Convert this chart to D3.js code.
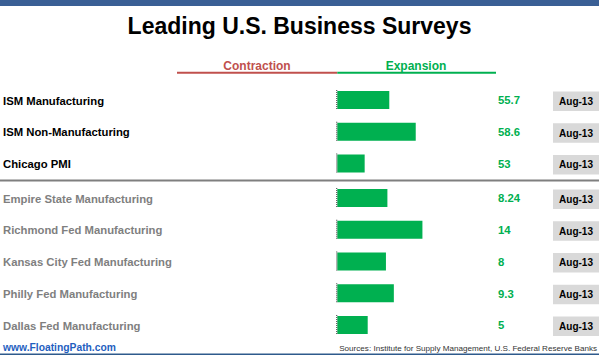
<!DOCTYPE html>
<html>
<head>
<meta charset="utf-8">
<script src="https://cdn.jsdelivr.net/npm/d3@7"></script>
<style>
  html, body { margin: 0; padding: 0; background: #fff; }
  svg { display: block; font-family: "Liberation Sans", Arial, sans-serif; }
</style>
</head>
<body>
<svg id="chart" width="599" height="355"></svg>
<script>
const title = "Leading U.S. Business Surveys";
const legendLabels = ["Contraction", "Expansion"];

const ismNames = ["ISM Manufacturing", "ISM Non-Manufacturing", "Chicago PMI"];
const ismValues = [55.7, 58.6, 53];
const ismLabels = ["55.7", "58.6", "53"];
const ismDates = ["Aug-13", "Aug-13", "Aug-13"];

const fedNames = ["Empire State Manufacturing", "Richmond Fed Manufacturing", "Kansas City Fed Manufacturing", "Philly Fed Manufacturing", "Dallas Fed Manufacturing"];
const fedValues = [8.24, 14, 8, 9.3, 5];
const fedLabels = ["8.24", "14", "8", "9.3", "5"];
const fedDates = ["Aug-13", "Aug-13", "Aug-13", "Aug-13", "Aug-13"];

const footerLeft = "www.FloatingPath.com";
const footerRight = "Sources: Institute for Supply Management, U.S. Federal Reserve Banks";

const W = 599, H = 355;
const svg = d3.select("#chart");
const GREEN = "#00b050", RED = "#c0504d";

svg.append("rect").attr("x", 0).attr("y", 0).attr("width", W).attr("height", H).attr("fill", "#fff");
svg.append("rect").attr("x", 0).attr("y", 0).attr("width", W).attr("height", 6).attr("fill", "#3a5f95");

svg.append("text").attr("x", 299.5).attr("y", 34).attr("text-anchor", "middle")
  .attr("font-size", 23).attr("font-weight", "bold").attr("fill", "#000").text(title);

// legend
const axisX = 337.3;
svg.append("line").attr("x1", 177).attr("x2", axisX).attr("y1", 72.8).attr("y2", 72.8)
  .attr("stroke", RED).attr("stroke-width", 2);
svg.append("line").attr("x1", axisX).attr("x2", 496).attr("y1", 72.8).attr("y2", 72.8)
  .attr("stroke", GREEN).attr("stroke-width", 2);
svg.append("text").attr("x", 257).attr("y", 70).attr("text-anchor", "middle")
  .attr("font-size", 12).attr("font-weight", "bold").attr("fill", RED).text(legendLabels[0]);
svg.append("text").attr("x", 416).attr("y", 70).attr("text-anchor", "middle")
  .attr("font-size", 12).attr("font-weight", "bold").attr("fill", GREEN).text(legendLabels[1]);

// scales
const xIsm = d3.scaleLinear().domain([50, 60]).range([axisX, axisX + 91.2]);
const xFed = d3.scaleLinear().domain([0, 15]).range([axisX, axisX + 91.2]);
const yIsm = d3.scalePoint().domain(ismNames).range([100, 163.5]);
const yFed = d3.scalePoint().domain(fedNames).range([198, 325]);

function drawGroup(names, values, labels, dates, x, y, labelColor) {
  const rows = names.map((n, i) => ({ name: n, value: values[i], label: labels[i], date: dates[i] }));
  const g = svg.append("g");
  const row = g.selectAll("g.row").data(rows).join("g").attr("class", "row");

  row.append("text").attr("x", 3).attr("y", d => y(d.name) + 4.6)
    .attr("font-size", 11.3).attr("font-weight", "bold").attr("fill", labelColor).text(d => d.name);

  row.append("rect")
    .attr("x", x.range()[0])
    .attr("y", d => y(d.name) - 9)
    .attr("width", d => x(d.value) - x.range()[0])
    .attr("height", 18)
    .attr("fill", GREEN);

  row.append("line")
    .attr("x1", x.range()[0] - 0.6).attr("x2", x.range()[0] - 0.6)
    .attr("y1", d => y(d.name) - 10).attr("y2", d => y(d.name) + 10)
    .attr("stroke", "#555").attr("stroke-width", 1.2).attr("stroke-dasharray", "1,1");

  row.append("text").attr("x", 498).attr("y", d => y(d.name) + 4.3)
    .attr("font-size", 11.3).attr("font-weight", "bold").attr("fill", GREEN).text(d => d.label);

  row.append("rect").attr("x", 553).attr("y", d => y(d.name) - 8.5)
    .attr("width", 46).attr("height", 19.5).attr("fill", "#d9d9d9");
  row.append("text").attr("x", 576).attr("y", d => y(d.name) + 4.8).attr("text-anchor", "middle")
    .attr("font-size", 10).attr("font-weight", "bold").attr("fill", "#000").text(d => d.date);
}

drawGroup(ismNames, ismValues, ismLabels, ismDates, xIsm, yIsm, "#000");
drawGroup(fedNames, fedValues, fedLabels, fedDates, xFed, yFed, "#7f7f7f");

// separator
svg.append("line").attr("x1", 0).attr("x2", W).attr("y1", 180.5).attr("y2", 180.5)
  .attr("stroke", "#7f7f7f").attr("stroke-width", 2);

// footer
svg.append("text").attr("x", 3).attr("y", 350.5)
  .attr("font-size", 10.3).attr("font-weight", "bold").attr("fill", "#1f5fbf").text(footerLeft);
svg.append("text").attr("x", 597).attr("y", 350.5).attr("text-anchor", "end")
  .attr("font-size", 8.1).attr("fill", "#333").text(footerRight);
svg.append("line").attr("x1", 0).attr("x2", W).attr("y1", 354.2).attr("y2", 354.2)
  .attr("stroke", "#2e5a8c").attr("stroke-width", 1.6);
</script>
</body>
</html>
